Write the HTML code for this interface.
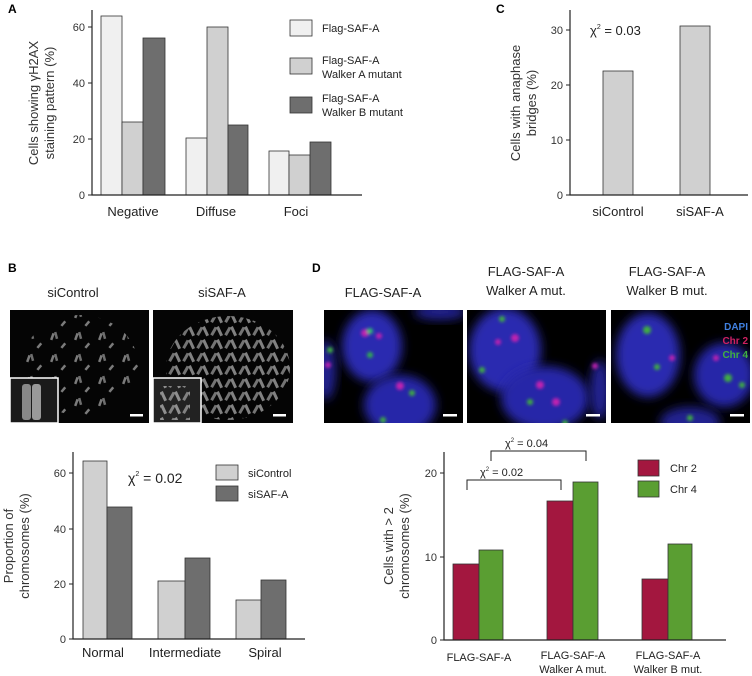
<!DOCTYPE html>
<html><head><style>
html,body{margin:0;padding:0;background:#fff;}
svg{display:block;font-family:"Liberation Sans",Arial,sans-serif;}
</style></head><body>
<svg width="752" height="676" viewBox="0 0 752 676" xmlns="http://www.w3.org/2000/svg">
<defs>
<filter id="bl" x="-30%" y="-30%" width="160%" height="160%"><feGaussianBlur stdDeviation="5"/></filter>
<filter id="bs" x="-50%" y="-50%" width="200%" height="200%"><feGaussianBlur stdDeviation="1.5"/></filter>
<pattern id="chr" width="24" height="22" patternUnits="userSpaceOnUse">
<rect x="3" y="3" width="2.5" height="7" fill="#999" transform="rotate(20 4 7)"/>
<rect x="7" y="2" width="2.5" height="7" fill="#888" transform="rotate(-15 8 6)"/>
<rect x="15" y="12" width="2.5" height="6" fill="#999" transform="rotate(40 15 14)"/>
</pattern>
<pattern id="chr2" width="14" height="13" patternUnits="userSpaceOnUse">
<rect x="2" y="2" width="3" height="9" fill="#999" transform="rotate(30 4 7)"/>
<rect x="8" y="1" width="3" height="10" fill="#aaa" transform="rotate(-25 10 6)"/>
</pattern>
<clipPath id="c1"><rect x="324" y="310" width="139" height="113"/></clipPath>
<clipPath id="c2"><rect x="467" y="310" width="139" height="113"/></clipPath>
<clipPath id="c3"><rect x="611" y="310" width="139" height="113"/></clipPath>
</defs>

<!-- Panel A -->
<text x="8" y="13" font-size="12" font-weight="bold">A</text>
<g stroke="#333" stroke-width="0.8">
<rect x="101" y="16" width="21" height="179" fill="#f0f0f0"/>
<rect x="122" y="122" width="21" height="73" fill="#d0d0d0"/>
<rect x="143" y="38" width="22" height="157" fill="#6e6e6e"/>
<rect x="186" y="138" width="21" height="57" fill="#f0f0f0"/>
<rect x="207" y="27" width="21" height="168" fill="#d0d0d0"/>
<rect x="228" y="125" width="20" height="70" fill="#6e6e6e"/>
<rect x="269" y="151" width="20" height="44" fill="#f0f0f0"/>
<rect x="289" y="155" width="21" height="40" fill="#d0d0d0"/>
<rect x="310" y="142" width="21" height="53" fill="#6e6e6e"/>
</g>
<path d="M92 10 V195 H362" fill="none" stroke="#222" stroke-width="1.2"/>
<g stroke="#222" stroke-width="1"><path d="M88 27H92M88 83H92M88 139H92M88 195H92"/></g>
<g font-size="11" fill="#333" text-anchor="end"><text x="85" y="31">60</text><text x="85" y="87">40</text><text x="85" y="143">20</text><text x="85" y="199">0</text></g>
<g font-size="13" fill="#222" text-anchor="middle"><text x="133" y="216">Negative</text><text x="216" y="216">Diffuse</text><text x="296" y="216">Foci</text></g>
<g font-size="13" fill="#333" text-anchor="middle" transform="rotate(-90)">
<text x="-103" y="38">Cells showing γH2AX</text><text x="-103" y="54">staining pattern (%)</text></g>
<g stroke="#333" stroke-width="0.8">
<rect x="290" y="20" width="22" height="16" fill="#f0f0f0"/>
<rect x="290" y="58" width="22" height="16" fill="#d0d0d0"/>
<rect x="290" y="97" width="22" height="16" fill="#6e6e6e"/></g>
<g font-size="11" fill="#222"><text x="322" y="32">Flag-SAF-A</text>
<text x="322" y="64">Flag-SAF-A</text><text x="322" y="78">Walker A mutant</text>
<text x="322" y="102">Flag-SAF-A</text><text x="322" y="116">Walker B mutant</text></g>

<!-- Panel C -->
<text x="496" y="13" font-size="12" font-weight="bold">C</text>
<rect x="603" y="71" width="30" height="124" fill="#d0d0d0" stroke="#333" stroke-width="0.8"/>
<rect x="680" y="26" width="30" height="169" fill="#d0d0d0" stroke="#333" stroke-width="0.8"/>
<path d="M570 10 V195 H748" fill="none" stroke="#222" stroke-width="1.2"/>
<g stroke="#222"><path d="M566 30H570M566 85H570M566 140H570M566 195H570"/></g>
<g font-size="11" fill="#333" text-anchor="end"><text x="563" y="34">30</text><text x="563" y="89">20</text><text x="563" y="144">10</text><text x="563" y="199">0</text></g>
<text x="590" y="35" font-size="13" fill="#222">χ<tspan font-size="7" dy="-6">2</tspan><tspan dy="6"> = 0.03</tspan></text>
<g font-size="13" fill="#222" text-anchor="middle"><text x="618" y="216">siControl</text><text x="700" y="216">siSAF-A</text></g>
<g font-size="13" fill="#333" text-anchor="middle" transform="rotate(-90)">
<text x="-103" y="520">Cells with anaphase</text><text x="-103" y="536">bridges (%)</text></g>

<!-- Panel B images -->
<text x="8" y="272" font-size="12" font-weight="bold">B</text>
<g font-size="13" fill="#222" text-anchor="middle"><text x="73" y="297">siControl</text><text x="222" y="297">siSAF-A</text></g>
<rect x="10" y="310" width="139" height="113" fill="#050505"/>
<ellipse cx="80" cy="365" rx="58" ry="50" fill="url(#chr)" opacity="0.8"/>
<rect x="10" y="378" width="48" height="45" fill="#1a1a1a" stroke="#fff" stroke-width="1.5"/>
<rect x="22" y="384" width="9" height="36" fill="#888" rx="3"/><rect x="32" y="384" width="9" height="36" fill="#999" rx="3"/>
<rect x="130" y="414" width="13" height="2.5" fill="#fff"/>
<rect x="153" y="310" width="140" height="113" fill="#050505"/>
<ellipse cx="228" cy="368" rx="62" ry="52" fill="url(#chr2)" opacity="0.75"/>
<rect x="153" y="378" width="48" height="45" fill="#222" stroke="#fff" stroke-width="1.5"/>
<rect x="160" y="386" width="30" height="34" fill="url(#chr2)" opacity="0.8"/>
<rect x="273" y="414" width="13" height="2.5" fill="#fff"/>

<!-- Panel D images -->
<text x="312" y="272" font-size="12" font-weight="bold">D</text>
<g font-size="13" fill="#222" text-anchor="middle"><text x="383" y="297">FLAG-SAF-A</text>
<text x="526" y="276">FLAG-SAF-A</text><text x="526" y="295">Walker A mut.</text>
<text x="667" y="276">FLAG-SAF-A</text><text x="667" y="295">Walker B mut.</text></g>
<rect x="324" y="310" width="139" height="113" fill="#000"/>
<g clip-path="url(#c1)">
<ellipse cx="372" cy="346" rx="30" ry="36" fill="#2a2ab0" filter="url(#bl)"/>
<ellipse cx="400" cy="405" rx="36" ry="30" fill="#2525a8" filter="url(#bl)"/>
<ellipse cx="326" cy="370" rx="10" ry="30" fill="#202090" filter="url(#bl)"/>
<ellipse cx="440" cy="312" rx="26" ry="8" fill="#202090" filter="url(#bl)"/>
<g filter="url(#bs)"><circle cx="365" cy="333" r="4" fill="#c020b0"/><circle cx="379" cy="336" r="3" fill="#c020b0"/><circle cx="370" cy="331" r="3" fill="#30c070"/><circle cx="370" cy="355" r="3" fill="#30b050"/><circle cx="400" cy="386" r="4" fill="#c020b0"/><circle cx="412" cy="393" r="3" fill="#40b040"/><circle cx="383" cy="420" r="3" fill="#40b040"/><circle cx="330" cy="350" r="3" fill="#40b040"/><circle cx="328" cy="365" r="3" fill="#c020b0"/></g>
</g>
<rect x="443" y="414" width="14" height="2.5" fill="#fff"/>
<rect x="467" y="310" width="139" height="113" fill="#000"/>
<g clip-path="url(#c2)">
<ellipse cx="505" cy="350" rx="36" ry="42" fill="#2a2ab0" filter="url(#bl)"/>
<ellipse cx="545" cy="398" rx="44" ry="32" fill="#2525a8" filter="url(#bl)"/>
<ellipse cx="600" cy="390" rx="10" ry="30" fill="#202090" filter="url(#bl)"/>
<g filter="url(#bs)"><circle cx="498" cy="342" r="3" fill="#c020b0"/><circle cx="515" cy="338" r="4" fill="#c020b0"/><circle cx="502" cy="319" r="3" fill="#40b040"/><circle cx="482" cy="370" r="3" fill="#40b040"/><circle cx="540" cy="385" r="4" fill="#c020b0"/><circle cx="556" cy="402" r="4" fill="#c020b0"/><circle cx="530" cy="402" r="3" fill="#40b040"/><circle cx="565" cy="423" r="3" fill="#40b040"/><circle cx="595" cy="366" r="3" fill="#c020b0"/></g>
</g>
<rect x="586" y="414" width="14" height="2.5" fill="#fff"/>
<rect x="611" y="310" width="139" height="113" fill="#000"/>
<g clip-path="url(#c3)">
<ellipse cx="648" cy="355" rx="32" ry="42" fill="#2a2ab0" filter="url(#bl)"/>
<ellipse cx="724" cy="375" rx="30" ry="32" fill="#2525a8" filter="url(#bl)"/>
<ellipse cx="690" cy="422" rx="30" ry="15" fill="#202090" filter="url(#bl)"/>
<g filter="url(#bs)"><circle cx="647" cy="330" r="4" fill="#40b040"/><circle cx="672" cy="358" r="3" fill="#c020b0"/><circle cx="657" cy="367" r="3" fill="#40b040"/><circle cx="716" cy="358" r="3" fill="#c020b0"/><circle cx="728" cy="378" r="4" fill="#40b040"/><circle cx="742" cy="385" r="3" fill="#40b040"/><circle cx="690" cy="418" r="3" fill="#40b040"/></g>
</g>
<g font-size="10" font-weight="bold" text-anchor="end"><text x="748" y="330" fill="#4080e0">DAPI</text><text x="748" y="344" fill="#d02060">Chr 2</text><text x="748" y="358" fill="#40b040">Chr 4</text></g>
<rect x="730" y="414" width="14" height="2.5" fill="#fff"/>

<!-- Panel B chart -->
<g stroke="#333" stroke-width="0.8">
<rect x="83" y="461" width="24" height="178" fill="#d0d0d0"/>
<rect x="107" y="507" width="25" height="132" fill="#6e6e6e"/>
<rect x="158" y="581" width="27" height="58" fill="#d0d0d0"/>
<rect x="185" y="558" width="25" height="81" fill="#6e6e6e"/>
<rect x="236" y="600" width="25" height="39" fill="#d0d0d0"/>
<rect x="261" y="580" width="25" height="59" fill="#6e6e6e"/>
<rect x="216" y="465" width="22" height="15" fill="#d0d0d0"/>
<rect x="216" y="486" width="22" height="15" fill="#6e6e6e"/></g>
<path d="M73 452 V639 H305" fill="none" stroke="#222" stroke-width="1.2"/>
<g stroke="#222"><path d="M69 473H73M69 529H73M69 584H73M69 639H73"/></g>
<g font-size="11" fill="#333" text-anchor="end"><text x="66" y="477">60</text><text x="66" y="533">40</text><text x="66" y="588">20</text><text x="66" y="643">0</text></g>
<g font-size="11" fill="#222"><text x="248" y="477">siControl</text><text x="248" y="498">siSAF-A</text></g>
<text x="128" y="483" font-size="14" fill="#222">χ<tspan font-size="7" dy="-7">2</tspan><tspan dy="7"> = 0.02</tspan></text>
<g font-size="13" fill="#222" text-anchor="middle"><text x="103" y="657">Normal</text><text x="185" y="657">Intermediate</text><text x="265" y="657">Spiral</text></g>
<g font-size="13" fill="#333" text-anchor="middle" transform="rotate(-90)">
<text x="-546" y="13">Proportion of</text><text x="-546" y="29">chromosomes (%)</text></g>

<!-- Panel D chart -->
<g stroke="#333" stroke-width="0.8">
<rect x="453" y="564" width="26" height="76" fill="#a3173f"/>
<rect x="479" y="550" width="24" height="90" fill="#5a9e32"/>
<rect x="547" y="501" width="26" height="139" fill="#a3173f"/>
<rect x="573" y="482" width="25" height="158" fill="#5a9e32"/>
<rect x="642" y="579" width="26" height="61" fill="#a3173f"/>
<rect x="668" y="544" width="24" height="96" fill="#5a9e32"/>
<rect x="638" y="460" width="21" height="16" fill="#a3173f"/>
<rect x="638" y="481" width="21" height="16" fill="#5a9e32"/></g>
<path d="M444 452 V640 H726" fill="none" stroke="#222" stroke-width="1.2"/>
<g stroke="#222"><path d="M440 473H444M440 557H444M440 640H444"/></g>
<g font-size="11" fill="#333" text-anchor="end"><text x="437" y="477">20</text><text x="437" y="561">10</text><text x="437" y="644">0</text></g>
<g font-size="11" fill="#222"><text x="670" y="472">Chr 2</text><text x="670" y="493">Chr 4</text></g>
<path d="M467 490V480H561V490M491 461V451H586V461" fill="none" stroke="#222" stroke-width="1"/>
<text x="480" y="476" font-size="11" fill="#222">χ<tspan font-size="6" dy="-5">2</tspan><tspan dy="5"> = 0.02</tspan></text>
<text x="505" y="447" font-size="11" fill="#222">χ<tspan font-size="6" dy="-5">2</tspan><tspan dy="5"> = 0.04</tspan></text>
<g font-size="11" fill="#222" text-anchor="middle"><text x="479" y="661">FLAG-SAF-A</text>
<text x="573" y="659">FLAG-SAF-A</text><text x="573" y="673">Walker A mut.</text>
<text x="668" y="659">FLAG-SAF-A</text><text x="668" y="673">Walker B mut.</text></g>
<g font-size="13" fill="#333" text-anchor="middle" transform="rotate(-90)">
<text x="-546" y="393">Cells with &gt; 2</text><text x="-546" y="409">chromosomes (%)</text></g>
</svg>
</body></html>
